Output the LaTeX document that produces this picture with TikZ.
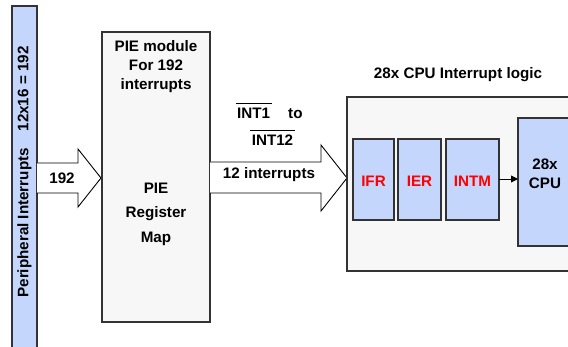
\documentclass[tikz,border=0pt]{standalone}
\usepackage{fontspec}
\setmainfont{Liberation Sans}
\usetikzlibrary{arrows.meta}
\definecolor{regblue}{HTML}{C4D6FC}
\definecolor{boxgray}{HTML}{F7F7F7}
\definecolor{edge}{HTML}{333333}
\tikzset{
  txt/.style={font=\fontsize{15.2}{19}\selectfont\bfseries, inner sep=0pt},
  regbox/.style={draw=edge, line width=1.3pt, fill=regblue},
  fatarrow/.style={draw=black, line width=0.9pt, fill=white, line join=miter},
  redtxt/.style={txt, text=red},
  ovl/.style={line width=1.2pt}
}
\begin{document}
\begin{tikzpicture}[x=1pt,y=-1pt]
\useasboundingbox (0,0) rectangle (568,347);
\clip (0,0) rectangle (568,347);
% left bar
\draw[regbox] (12,6) rectangle (37,360);
\node[txt, rotate=90] (pi) at (24.5,172) {Peripheral Interrupts\hspace{1.1em}12x16 = 192};
% arrow 192
\draw[fatarrow] (37,163) -- (78,163) -- (78,149) -- (101,178) -- (78,207) -- (78,193) -- (37,193);
\node[txt] (n192) at (62,178) {192};
% PIE box
\draw[draw=edge, line width=1.1pt, fill=boxgray] (102,32) rectangle (210,322);
\node[txt, align=center] (piem) at (156,67) {PIE module\\For 192\\interrupts};
\node[txt, align=center, font=\fontsize{15.2}{24.5}\selectfont\bfseries] (pier) at (156,214) {PIE\\Register\\Map};
% right arrow
\draw[fatarrow] (210,162) -- (321,162) -- (321,145) -- (347,178) -- (321,211) -- (321,193) -- (210,193);
\node[txt, anchor=base west] (int1) at (237,119) {INT1};
\node[txt, anchor=base west] (to) at (288,119) {to};
\node[txt, anchor=base] (int12) at (272.5,146) {INT12};
\draw[ovl] ([xshift=-1.5pt,yshift=4.5pt]int1.north west) -- ([xshift=1.5pt,yshift=4.5pt]int1.north east);
\draw[ovl] ([xshift=-1.5pt,yshift=4.5pt]int12.north west) -- ([xshift=1.5pt,yshift=4.5pt]int12.north east);
\node[txt] (n12) at (269,175) {12 interrupts};
% CPU logic box
\node[txt] (title) at (458,75) {28x CPU Interrupt logic};
\draw[draw=edge, line width=1.1pt, fill=boxgray] (347,97) rectangle (600,271);
\draw[regbox] (353,139) rectangle (394,220);
\draw[regbox] (398,139) rectangle (441,220);
\draw[regbox] (446,139) rectangle (499,220);
\node[redtxt] (ifr) at (373.5,181) {IFR};
\node[redtxt] (ier) at (419.5,181) {IER};
\node[redtxt] (intm) at (472.5,181) {INTM};
\draw[regbox] (518,118) rectangle (600,246);
\node[txt, align=center, font=\fontsize{15.2}{18.5}\selectfont\bfseries] (cpu) at (545,174) {28x\\CPU};
\coordinate (intmr) at (499,179);
\coordinate (cpul) at (518,179);
\draw[line width=0.9pt, -{Triangle[length=7pt,width=7pt]}] (intmr) -- (cpul);
\end{tikzpicture}
\end{document}
